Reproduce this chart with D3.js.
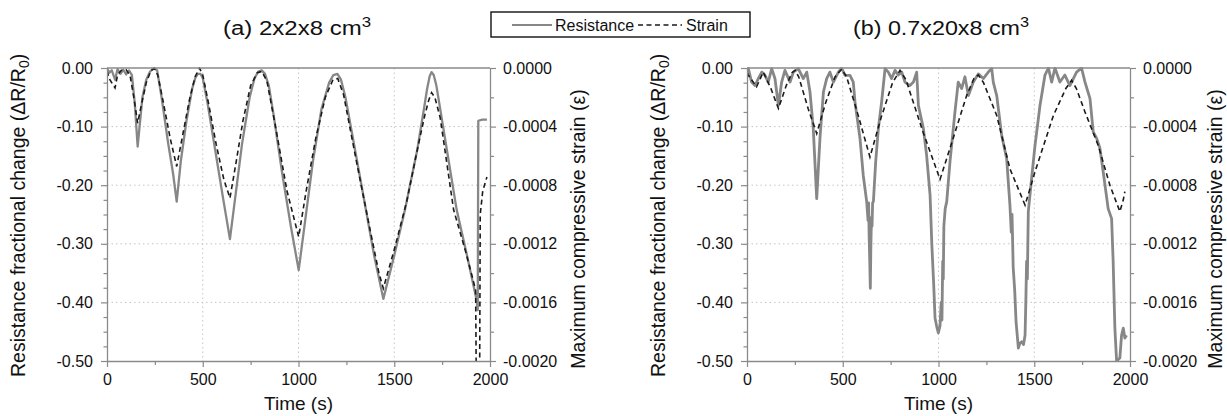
<!DOCTYPE html>
<html>
<head>
<meta charset="utf-8">
<script src="https://cdn.jsdelivr.net/npm/d3@7"></script>
<style>
  body { margin: 0; background: #fff; }
  text { font-family: "Liberation Sans", Arial, sans-serif; fill: #111; }
</style>
</head>
<body>
<svg width="1227" height="416"></svg>
<script>
// tick values
const timeTicks = [0, 500, 1000, 1500, 2000];
const timeMinor = [250, 750, 1250, 1750];
const resTicks = [0, -0.1, -0.2, -0.3, -0.4, -0.5];
const strainTicks = [0, -0.0004, -0.0008, -0.0012, -0.0016, -0.002];
const strainMinor = [-0.0002, -0.0006, -0.001, -0.0014, -0.0018];
const legendLabels = ["Resistance", "Strain"];

// (a) 2x2x8 cm3 : [time s, dR/R0]
const resA = [[0,0],[12,-0.008],[25,-0.004],[42,-0.02],[55,-0.002],[70,-0.01],[85,-0.003],[100,-0.011],
  [115,-0.004],[130,-0.012],[145,-0.06],[160,-0.134],[170,-0.1],[185,-0.05],[205,-0.02],[225,-0.006],
  [245,0],[262,-0.004],[285,-0.05],[320,-0.13],[345,-0.18],[364,-0.228],[385,-0.16],[415,-0.09],
  [445,-0.035],[462,-0.016],[475,-0.01],[488,-0.01],[500,-0.017],[525,-0.06],[565,-0.14],[605,-0.22],[642,-0.292],
  [670,-0.22],[705,-0.13],[745,-0.05],[770,-0.018],[790,-0.006],[808,-0.004],[825,-0.01],[845,-0.03],[870,-0.08],[915,-0.18],
  [960,-0.27],[1001,-0.345],[1035,-0.26],[1075,-0.16],[1120,-0.07],[1160,-0.025],[1182,-0.012],[1203,-0.01],
  [1222,-0.02],[1245,-0.05],[1290,-0.13],[1340,-0.22],[1395,-0.32],[1443,-0.394],[1500,-0.32],[1556,-0.242],
  [1620,-0.14],[1655,-0.07],[1672,-0.035],[1685,-0.014],[1695,-0.007],[1706,-0.012],[1720,-0.03],[1745,-0.08],[1790,-0.17],
  [1826,-0.242],[1880,-0.32],[1930,-0.396],[1936,-0.413],[1939,-0.09],[1960,-0.088],[1984,-0.088]];

// (a) strain : [time s, strain]
const strainA = [[0,-0.00002],[15,-0.00008],[42,-0.000136],[55,-0.000048],[75,-0.000016],[100,-0.000012],
  [120,-0.000048],[140,-0.0002],[160,-0.000376],[180,-0.000248],[205,-0.0001],[230,-0.000016],
  [248,-0.000004],[265,-0.000048],[295,-0.00024],[330,-0.00048],[364,-0.000672],[395,-0.00046],
  [430,-0.00022],[460,-0.00006],[483,0],[500,-0.000048],[530,-0.00024],[570,-0.00052],[610,-0.00076],
  [642,-0.000888],[672,-0.00066],[710,-0.00036],[750,-0.00012],[785,-0.000032],[808,-0.000024],
  [835,-0.000088],[880,-0.0004],[940,-0.00084],[1001,-0.001152],[1040,-0.00084],[1090,-0.00048],
  [1140,-0.0002],[1180,-0.00008],[1205,-0.000072],[1235,-0.00018],[1300,-0.00062],[1370,-0.00108],
  [1420,-0.0014],[1443,-0.001504],[1500,-0.00124],[1565,-0.000912],[1620,-0.00056],[1660,-0.00032],
  [1680,-0.00022],[1695,-0.000168],[1712,-0.0002],[1740,-0.00034],[1810,-0.000968],[1870,-0.00124],
  [1912,-0.001448],[1925,-0.00152],[1928,-0.00208],[1946,-0.00208],[1949,-0.001],[1962,-0.00084],
  [1984,-0.000744]];

// (b) 0.7x20x8 cm3 : [time s, dR/R0]
const resB = [[0,-0.002],[7,-0.001],[24,-0.024],[42,-0.03],[59,-0.018],[77,-0.007],[94,-0.0125],
  [111,-0.024],[129,-0.001],[146,-0.018],[164,-0.064],[181,-0.024],[198,-0.004],[225,-0.024],
  [242,-0.007],[268,-0.001],[294,-0.018],[312,-0.007],[329,-0.041],[346,-0.103],[364,-0.223],
  [381,-0.12],[399,-0.041],[416,-0.018],[433,-0.007],[451,-0.024],[477,-0.007],[494,0],[512,-0.0125],
  [538,-0.0125],[555,-0.024],[564,-0.058],[590,-0.12],[607,-0.183],[625,-0.228],[632,-0.26],
  [635,-0.23],[638,-0.29],[641,-0.33],[644,-0.376],[647,-0.3],[650,-0.255],[653,-0.27],[656,-0.23],
  [660,-0.228],[672,-0.16],[686,-0.103],[703,-0.058],[721,-0.001],[738,-0.007],[755,-0.018],
  [773,-0.004],[790,-0.012],[808,-0.007],[825,-0.024],[851,-0.03],[869,-0.024],[886,-0.007],
  [895,-0.064],[921,-0.103],[938,-0.149],[956,-0.217],[965,-0.3],[975,-0.37],[982,-0.427],
  [990,-0.44],[999,-0.452],[1008,-0.44],[1014,-0.4],[1018,-0.43],[1022,-0.33],[1025,-0.36],
  [1028,-0.27],[1035,-0.24],[1043,-0.228],[1060,-0.16],[1086,-0.075],[1103,-0.024],[1121,-0.035],
  [1138,-0.015],[1156,-0.047],[1182,-0.024],[1208,-0.01],[1234,-0.018],[1260,-0.007],[1278,-0.001],
  [1286,-0.024],[1304,-0.047],[1330,-0.115],[1356,-0.155],[1373,-0.234],[1380,-0.28],[1384,-0.25],
  [1390,-0.34],[1398,-0.38],[1405,-0.433],[1417,-0.478],[1425,-0.47],[1434,-0.467],[1444,-0.472],
  [1452,-0.456],[1456,-0.4],[1460,-0.33],[1464,-0.36],[1469,-0.245],[1486,-0.189],[1504,-0.132],
  [1530,-0.064],[1556,-0.012],[1574,0],[1591,-0.024],[1608,0],[1634,-0.024],[1660,-0.012],
  [1686,-0.03],[1721,-0.007],[1747,0],[1765,-0.024],[1791,-0.052],[1808,-0.109],[1826,-0.12],
  [1843,-0.137],[1860,-0.177],[1886,-0.24],[1904,-0.257],[1912,-0.33],[1921,-0.444],[1930,-0.5],
  [1947,-0.495],[1956,-0.456],[1965,-0.444],[1973,-0.461],[1982,-0.456]];

// (b) strain : [time s, strain]
const strainB = [[0,-0.000032],[7,-0.00005],[50,-0.000128],[85,-0.000028],[125,-0.00014],[164,-0.000276],
  [205,-0.00012],[235,-0.000032],[251,-0.000016],[270,-0.00006],[320,-0.00028],[364,-0.000448],
  [410,-0.00024],[460,-0.00006],[494,-0.000008],[520,-0.00006],[580,-0.00032],[642,-0.000608],
  [700,-0.00034],[760,-0.0001],[799,-0.000016],[830,-0.00008],[920,-0.00044],[1008,-0.00076],
  [1060,-0.000548],[1147,-0.000188],[1185,-0.000072],[1208,-0.000048],[1235,-0.0001],[1304,-0.000324],
  [1373,-0.000688],[1452,-0.000936],[1504,-0.000708],[1600,-0.000324],[1665,-0.00014],[1695,-0.000084],
  [1720,-0.00014],[1765,-0.0003],[1834,-0.000528],[1895,-0.0008],[1947,-0.00098],[1965,-0.0009],
  [1973,-0.000844]];

const svg = d3.select("svg");
const plotTop = 68, plotBottom = 361;
const axisColor = "#8a8a8a";
const resColor = "#878787";

const panels = [
  {title: "(a) 2x2x8 cm", titleX: 297, titleLen: 148, x0: 107, x1: 490, res: resA, strain: strainA, lw: 2.3, labL: 25, labR: 585},
  {title: "(b) 0.7x20x8 cm", titleX: 941, titleLen: 176, x0: 747, x1: 1130, res: resB, strain: strainB, lw: 2.8, labL: 665, labR: 1222}
];

function styleAxis(sel) {
  sel.select(".domain").attr("stroke", axisColor).attr("stroke-width", 1.3);
  sel.selectAll(".tick line").attr("stroke", axisColor).attr("stroke-width", 1.2);
  sel.selectAll("text").attr("font-size", 16).attr("fill", "#111")
    .attr("font-family", "'Liberation Sans', Arial, sans-serif");
}

panels.forEach((p, i) => {
  const x = d3.scaleLinear().domain([0, 2000]).range([p.x0, p.x1]);
  const yR = d3.scaleLinear().domain([-0.5, 0]).range([plotBottom, plotTop]);
  const yS = d3.scaleLinear().domain([-0.002, 0]).range([plotBottom, plotTop]);
  const g = svg.append("g");

  // dotted grid
  g.selectAll(".gx").data(timeTicks.slice(1, -1)).join("line")
    .attr("x1", d => x(d)).attr("x2", d => x(d))
    .attr("y1", plotTop).attr("y2", plotBottom)
    .attr("stroke", "#c4c4c4").attr("stroke-dasharray", "1.5,3");
  g.selectAll(".gy").data(resTicks.slice(1, -1)).join("line")
    .attr("x1", p.x0).attr("x2", p.x1)
    .attr("y1", d => yR(d)).attr("y2", d => yR(d))
    .attr("stroke", "#c4c4c4").attr("stroke-dasharray", "1.5,3");

  // clip to plot area
  svg.append("clipPath").attr("id", "clip" + i).append("rect")
    .attr("x", p.x0).attr("y", plotTop - 1)
    .attr("width", p.x1 - p.x0).attr("height", plotBottom - plotTop + 2);

  const lines = g.append("g").attr("clip-path", `url(#clip${i})`);
  lines.append("path").datum(p.res)
    .attr("d", d3.line().x(d => x(d[0])).y(d => yR(d[1])))
    .attr("fill", "none").attr("stroke", resColor).attr("stroke-width", p.lw)
    .attr("stroke-linejoin", "round");
  lines.append("path").datum(p.strain)
    .attr("d", d3.line().x(d => x(d[0])).y(d => yS(d[1])))
    .attr("fill", "none").attr("stroke", "#1a1a1a").attr("stroke-width", 1.6)
    .attr("stroke-dasharray", "5,3.5");

  // frame top
  g.append("line").attr("x1", p.x0).attr("x2", p.x1).attr("y1", plotTop).attr("y2", plotTop)
    .attr("stroke", axisColor).attr("stroke-width", 1.3);

  // axes
  g.append("g").attr("transform", `translate(0,${plotBottom})`)
    .call(d3.axisBottom(x).tickValues(timeMinor).tickSize(4).tickFormat(""))
    .call(s => s.select(".domain").remove()).call(styleAxis);
  g.append("g").attr("transform", `translate(0,${plotBottom})`)
    .call(d3.axisBottom(x).tickValues(timeTicks).tickSize(6).tickSizeOuter(0).tickPadding(7)
      .tickFormat(d => String(d)))
    .call(styleAxis);

  g.append("g").attr("transform", `translate(${p.x0},0)`)
    .call(d3.axisLeft(yR).tickValues(d3.range(-0.475, 0, 0.025).filter(v => Math.abs(v * 10 - Math.round(v * 10)) > 1e-6)).tickSize(3.5).tickFormat(""))
    .call(s => s.select(".domain").remove()).call(styleAxis);
  g.append("g").attr("transform", `translate(${p.x0},0)`)
    .call(d3.axisLeft(yR).tickValues(resTicks).tickSize(6).tickSizeOuter(0).tickPadding(8)
      .tickFormat(d => d.toFixed(2)))
    .call(styleAxis);

  g.append("g").attr("transform", `translate(${p.x1},0)`)
    .call(d3.axisRight(yS).tickValues(strainMinor).tickSize(4).tickFormat(""))
    .call(s => s.select(".domain").remove()).call(styleAxis);
  g.append("g").attr("transform", `translate(${p.x1},0)`)
    .call(d3.axisRight(yS).tickValues(strainTicks).tickSize(6).tickSizeOuter(0).tickPadding(7)
      .tickFormat(d => d.toFixed(4)))
    .call(styleAxis);

  // titles
  const t = svg.append("text").attr("x", p.titleX).attr("y", 35)
    .attr("text-anchor", "middle").attr("font-size", 20)
    .attr("textLength", p.titleLen).attr("lengthAdjust", "spacingAndGlyphs");
  t.append("tspan").text(p.title);
  t.append("tspan").attr("dy", -8).attr("font-size", 14).text("3");

  svg.append("text").attr("x", (p.x0 + p.x1) / 2).attr("y", 410)
    .attr("text-anchor", "middle").attr("font-size", 19).text("Time (s)");

  const yl = svg.append("text").attr("transform", `translate(${p.labL},377) rotate(-90)`)
    .attr("text-anchor", "start").attr("font-size", 19.5);
  yl.append("tspan").text("Resistance fractional change (\u0394R/R");
  yl.append("tspan").attr("font-size", 14).attr("dy", 4).text("0");
  yl.append("tspan").attr("dy", -4).text(")");

  svg.append("text").attr("transform", `translate(${p.labR},229) rotate(-90)`)
    .attr("text-anchor", "middle").attr("font-size", 19.5)
    .text("Maximum compressive strain (\u03b5)");
});

// legend
const lg = svg.append("g");
lg.append("rect").attr("x", 491).attr("y", 12).attr("width", 259).attr("height", 25)
  .attr("fill", "#fff").attr("stroke", "#111").attr("stroke-width", 1.4);
lg.append("line").attr("x1", 512).attr("x2", 552).attr("y1", 25).attr("y2", 25)
  .attr("stroke", resColor).attr("stroke-width", 2.2);
lg.append("text").attr("x", 555).attr("y", 31).attr("font-size", 16).text(legendLabels[0]);
lg.append("line").attr("x1", 638).attr("x2", 682).attr("y1", 25).attr("y2", 25)
  .attr("stroke", "#1a1a1a").attr("stroke-width", 1.6).attr("stroke-dasharray", "5,3.5");
lg.append("text").attr("x", 686).attr("y", 31).attr("font-size", 16).text(legendLabels[1]);
</script>
</body>
</html>
